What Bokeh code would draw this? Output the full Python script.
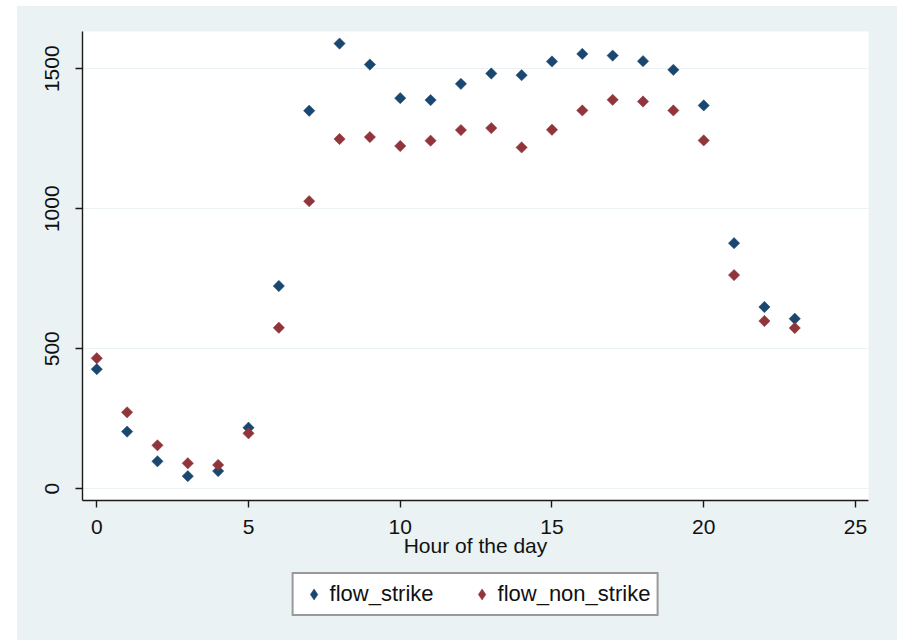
import numpy as np
from bokeh.plotting import figure
from bokeh.layouts import column
from bokeh.models import Range1d, FixedTicker, Legend, LegendItem, ColumnDataSource
from bokeh.embed import file_html
from bokeh.resources import INLINE

# ---- data ----
hours = list(range(24))
flow_strike = [427, 204, 98, 45, 63, 218, 724, 1350, 1590, 1515, 1395, 1388,
               1446, 1483, 1477, 1526, 1553, 1547, 1527, 1496, 1369, 877, 649, 607]
flow_non_strike = [466, 273, 155, 91, 85, 198, 575, 1027, 1249, 1256, 1224, 1243,
                   1281, 1288, 1219, 1282, 1351, 1389, 1383, 1351, 1244, 763, 599, 574]
x_ticks = [0, 5, 10, 15, 20, 25]
y_ticks = [0, 500, 1000, 1500]
x_label = "Hour of the day"
series_names = ["flow_strike", "flow_non_strike"]

FONT = "Liberation Sans"
BG = "#EAF2F3"
BLUE = "#1A476F"
RED = "#90353B"

src = ColumnDataSource(dict(hour=hours, s=flow_strike, ns=flow_non_strike))

p = figure(width=880, height=560, output_backend="svg", toolbar_location=None,
           x_range=Range1d(-0.47, 25.43), y_range=Range1d(-42, 1633),
           min_border_left=65, min_border_right=29, min_border_top=25,
           min_border_bottom=66)
p.background_fill_color = "white"
p.border_fill_color = BG
p.outline_line_color = None

marker_kw = dict(marker="square", size=8, angle=np.pi / 4, line_width=0.5)
r1 = p.scatter("hour", "s", source=src, fill_color=BLUE, line_color=BLUE, **marker_kw)
r2 = p.scatter("hour", "ns", source=src, fill_color=RED, line_color=RED, **marker_kw)

# axes
for ax in (p.xaxis[0], p.yaxis[0]):
    ax.axis_line_color = "#1a1a1a"
    ax.axis_line_width = 1.4
    ax.major_tick_line_color = "#1a1a1a"
    ax.major_tick_line_width = 1.4
    ax.major_tick_out = 7
    ax.major_tick_in = 0
    ax.minor_tick_line_color = None
    ax.major_label_text_font = FONT
    ax.major_label_text_font_size = "21px"
    ax.major_label_text_color = "#111111"

p.xaxis.ticker = FixedTicker(ticks=x_ticks)
p.yaxis.ticker = FixedTicker(ticks=y_ticks)
p.yaxis.major_label_orientation = "vertical"
p.yaxis.major_label_standoff = 16
p.xaxis.major_label_standoff = 12
p.xaxis.axis_label = x_label
p.xaxis.axis_label_text_font = FONT
p.xaxis.axis_label_text_font_size = "21px"
p.xaxis.axis_label_text_font_style = "normal"
p.xaxis.axis_label_text_color = "#111111"
p.xaxis.axis_label_standoff = -3

p.xgrid.grid_line_color = None
p.ygrid.grid_line_color = BG
p.ygrid.grid_line_width = 1.2
p.ygrid.ticker = FixedTicker(ticks=y_ticks)

# ---- legend strip below the plot (its renderers fall outside its ranges) ----
p2 = figure(width=880, height=74, output_backend="svg", toolbar_location=None,
            x_axis_location=None, y_axis_location=None,
            x_range=Range1d(-100, -99), y_range=Range1d(-100, -99),
            min_border_left=65, min_border_right=29, min_border_top=0,
            min_border_bottom=0)
p2.background_fill_color = BG
p2.border_fill_color = BG
p2.outline_line_color = None
p2.xgrid.visible = False
p2.ygrid.visible = False
leg_kw = dict(marker="diamond", size=11, line_width=0.5)
l1 = p2.scatter("hour", "s", source=src, fill_color=BLUE, line_color=BLUE, **leg_kw)
l2 = p2.scatter("hour", "ns", source=src, fill_color=RED, line_color=RED, **leg_kw)

legend = Legend(items=[LegendItem(label=series_names[0], renderers=[l1]),
                       LegendItem(label=series_names[1], renderers=[l2])],
                orientation="horizontal", location="top_center",
                border_line_color="#333333", border_line_width=2,
                background_fill_color="white", background_fill_alpha=1,
                padding=6, spacing=34, glyph_width=28, glyph_height=28,
                label_standoff=2, label_height=20,
                label_text_font=FONT, label_text_font_size="22px",
                label_text_color="#111111", margin=6)
p2.add_layout(legend, "center")

layout = column(p, p2, spacing=0, margin=(6, 0, 0, 17), background=BG)
open("out.html", "w").write(file_html(layout, INLINE))
